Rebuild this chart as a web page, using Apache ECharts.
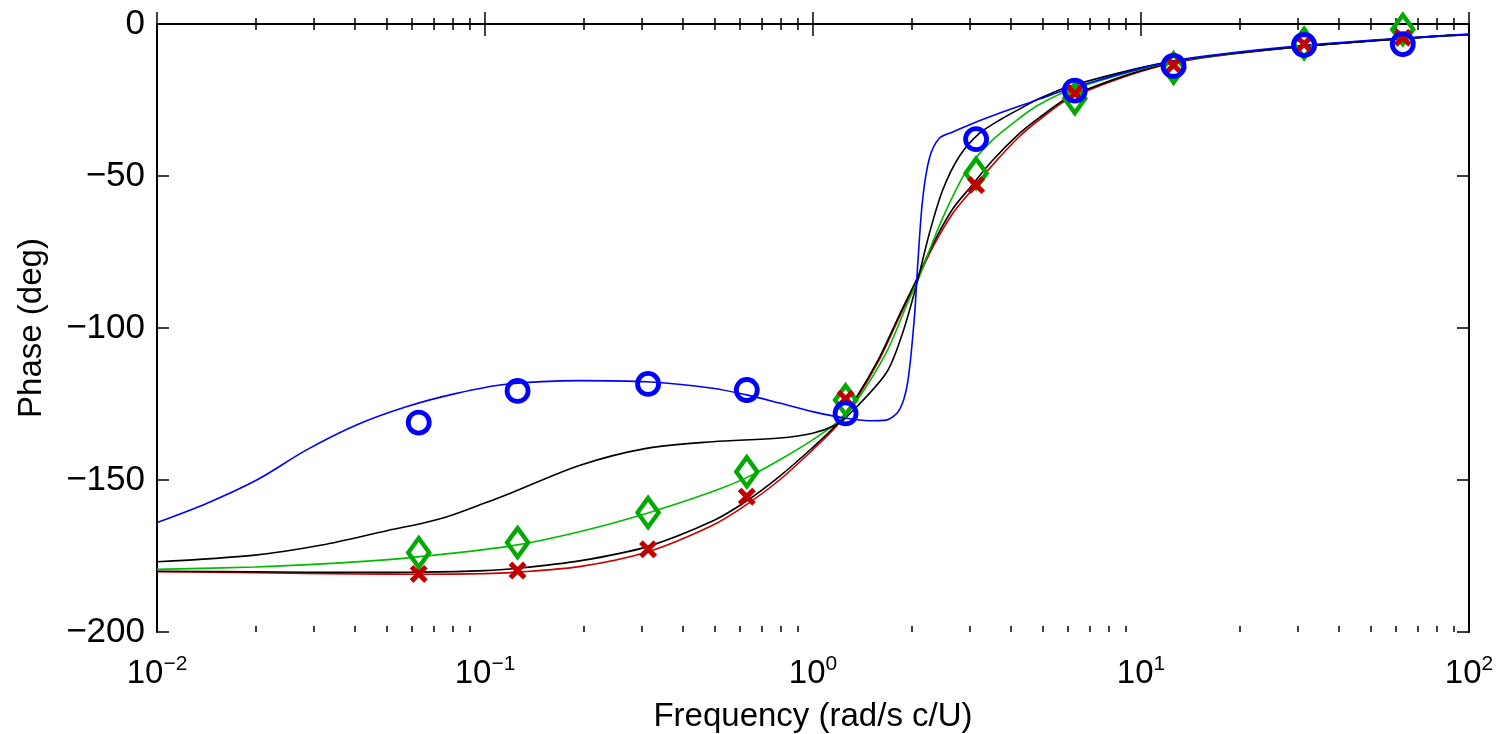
<!DOCTYPE html>
<html>
<head>
<meta charset="utf-8">
<script src="https://cdn.jsdelivr.net/npm/echarts@6/dist/echarts.min.js"></script>
<style>
html,body{margin:0;padding:0;background:#fff;}
#chart{width:1502px;height:734px;}
</style>
</head>
<body>
<div id="chart"></div>
<script>
// ---- data (frequency in rad/s, phase in deg) ----
const markFreq = [0.0628, 0.1257, 0.3142, 0.6283, 1.257, 3.142, 6.283, 12.57, 31.42, 62.83];
const blueMarks  = [-131.1, -120.7, -118.4, -120.4, -128.1, -37.9, -21.9, -13.8, -6.9, -6.6];
const greenMarks = [-173.9, -170.6, -160.7, -147.3, -123.7, -49.1, -24.5, -14.5, -6.4, -1.8];
const redMarks   = [-180.9, -179.8, -172.8, -155.5, -123.3, -53.0, -22.8, -13.5, -6.6, -4.5];

const blueLine = [[0.01,-164.0],[0.01416,-157.7],[0.02014,-150.0],[0.02858,-140.1],[0.04055,-131.9],[0.05754,-125.9],[0.08185,-121.5],[0.1161,-118.5],[0.1941,-117.3],[0.3112,-117.7],[0.4943,-119.8],[0.6266,-122.0],[0.7907,-124.7],[0.9954,-127.5],[1.262,-129.7],[1.486,-130.5],[1.671,-130.3],[1.832,-127.0],[1.941,-118.2],[2.037,-96.7],[2.084,-79.8],[2.158,-57.9],[2.265,-44.1],[2.427,-37.6],[2.667,-35.5],[2.992,-33.2],[3.524,-30.2],[4.375,-26.6],[4.898,-24.7],[6.17,-21.0],[12.45,-12.2],[31.8,-7.0],[80.9,-3.9],[100,-3.3]];
const blackUpper = [[0.01,-176.9],[0.0199,-174.7],[0.0318,-171.4],[0.0506,-166.6],[0.064,-164.3],[0.0762,-162.2],[0.0998,-157.6],[0.1216,-154.0],[0.194,-145.2],[0.3105,-139.6],[0.4946,-137.4],[0.7906,-136.2],[0.9977,-134.6],[1.175,-131.9],[1.261,-129.5],[1.670,-114.9],[1.875,-101.7],[2.061,-86.4],[2.263,-68.9],[2.486,-54.6],[2.792,-43.6],[3.214,-36.0],[3.785,-31.0],[4.258,-28.0],[4.898,-24.5],[6.17,-20.2],[12.45,-12.3],[31.8,-7.3],[80.9,-4.0],[100,-3.5]];
const greenLine = [[0.01,-179.4],[0.0199,-178.6],[0.0318,-177.6],[0.0506,-176.2],[0.0762,-174.3],[0.1216,-171.6],[0.194,-167.0],[0.3105,-161.0],[0.4946,-153.8],[0.6254,-149.3],[0.7906,-143.4],[0.9977,-136.8],[1.175,-131.3],[1.321,-125.9],[1.670,-108.3],[1.921,-93.0],[2.109,-83.1],[2.373,-68.9],[2.665,-56.8],[2.992,-46.9],[3.524,-38.2],[4.258,-31.0],[4.898,-26.5],[6.17,-21.5],[12.45,-12.5],[31.8,-7.3],[80.9,-4.0],[100,-3.5]];
const redLine = [[0.01,-180.2],[0.0199,-180.5],[0.0401,-180.9],[0.064,-181.0],[0.0998,-180.8],[0.1216,-180.4],[0.194,-178.5],[0.3105,-173.8],[0.4946,-164.9],[0.6254,-158.2],[0.7906,-150.0],[0.9977,-140.1],[1.175,-132.5],[1.352,-123.6],[1.592,-110.5],[1.832,-96.5],[2.06,-85.0],[2.33,-73.0],[2.66,-62.5],[3.0,-55.5],[3.52,-46.5],[4.26,-37.0],[4.9,-31.5],[6.17,-24.0],[12.45,-12.9],[31.8,-7.3],[80.9,-4.0],[100,-3.5]];
const blackLower = [[0.01,-180.0],[0.0199,-180.2],[0.0401,-180.4],[0.064,-180.3],[0.0998,-179.8],[0.1216,-179.2],[0.194,-176.6],[0.3105,-172.0],[0.4946,-163.5],[0.6254,-157.0],[0.7906,-148.8],[0.9977,-139.3],[1.175,-131.9],[1.352,-123.0],[1.592,-109.8],[1.832,-95.8],[2.06,-84.5],[2.33,-72.0],[2.66,-61.0],[3.0,-54.0],[3.52,-45.0],[4.26,-36.0],[4.9,-30.8],[6.17,-23.5],[12.45,-12.7],[31.8,-7.3],[80.9,-4.0],[100,-3.5]];

const xMin = 0.01, xMax = 100;
const yMin = -200, yMax = 0, yStep = 50;
const minorTickValues = [];
for (let d = -2; d <= 1; d++) for (let k = 2; k <= 9; k++) minorTickValues.push(+(k * Math.pow(10, d)).toPrecision(3));

// ---- chart ----
const FONT = 'Liberation Sans, Arial, Helvetica, sans-serif';
const pairs = (xs, ys) => xs.map((x, i) => [x, ys[i]]);
const chart = echarts.init(document.getElementById('chart'), null, {renderer: 'canvas'});

const gridBox = {left: 157, right: 33, top: 24, bottom: 102, containLabel: false, outerBoundsMode: 'none'};

// opts: {grid, pos, minor, labels, fixed}
function xAxisDef(o) {
  const a = {
    type: 'log', logBase: 10, min: xMin, max: xMax, position: o.pos, gridIndex: o.grid,
    axisLine: {show: !o.minor, lineStyle: {color: '#000', width: 2}},
    axisTick: {show: true, inside: true, length: o.minor ? 6 : 12, lineStyle: {color: '#000', width: 1.5}},
    splitLine: {show: false}, minorTick: {show: false},
    axisLabel: {show: false}
  };
  if (o.fixed) a.axisLine.onZero = false;
  if (o.minor) a.axisTick.customValues = minorTickValues;
  if (o.labels) {
    a.axisLabel = {
      show: true, margin: 22, color: '#000', fontFamily: FONT,
      formatter: function (v) {
        const e = Math.round(Math.log10(v));
        return '{b|10}{s|' + (e < 0 ? '\u2212' + (-e) : e) + '}';
      },
      rich: {
        b: {fontSize: 33, fontFamily: FONT, color: '#000', lineHeight: 40},
        s: {fontSize: 21, fontFamily: FONT, color: '#000', lineHeight: 16, verticalAlign: 'top'}
      }
    };
    a.name = 'Frequency (rad/s c/U)';
    a.nameLocation = 'middle';
    a.nameGap = 68;
    a.nameTextStyle = {fontSize: 33, fontFamily: FONT, color: '#000'};
  }
  return a;
}
function yAxisDef(grid, pos, labels, hidden) {
  const a = {
    type: 'value', min: yMin, max: yMax, interval: yStep, position: pos, gridIndex: grid,
    axisLine: {show: !hidden, lineStyle: {color: '#000', width: 2}},
    axisTick: {show: !hidden, inside: true, length: 12, lineStyle: {color: '#000', width: 1.5}},
    splitLine: {show: false},
    axisLabel: {show: false}
  };
  if (labels) {
    a.axisLabel = {show: true, margin: 12, fontSize: 35, fontFamily: FONT, color: '#000',
      formatter: v => String(v).replace('-', '\u2212')};
    a.name = 'Phase (deg)';
    a.nameLocation = 'middle';
    a.nameRotate = 90;
    a.nameGap = 109;
    a.nameTextStyle = {fontSize: 33, fontFamily: FONT, color: '#000'};
  }
  return a;
}

function lineSeries(data, color, z) {
  return {type: 'line', data: data, xAxisIndex: 0, yAxisIndex: 0, showSymbol: false, symbol: 'none',
    smooth: 0.3, lineStyle: {color: color, width: 1.6}, z: z, silent: true, clip: true};
}

const xPath = 'path://M0,2 L2,0 L5,3 L8,0 L10,2 L7,5 L10,8 L8,10 L5,7 L2,10 L0,8 L3,5 Z';

chart.setOption({
  animation: false,
  backgroundColor: '#fff',
  grid: [0, 1, 2].map(() => Object.assign({}, gridBox)),
  xAxis: [
    xAxisDef({grid: 0, pos: 'bottom', labels: true}),
    xAxisDef({grid: 0, pos: 'top'}),
    xAxisDef({grid: 1, pos: 'bottom', minor: true}),
    xAxisDef({grid: 1, pos: 'top', minor: true}),
    xAxisDef({grid: 2, pos: 'bottom', minor: true, fixed: true})
  ],
  yAxis: [yAxisDef(0, 'left', true, false), yAxisDef(0, 'right', false, false),
          yAxisDef(1, 'left', false, true), yAxisDef(2, 'left', false, true)],
  series: [
    lineSeries(redLine, '#cc0000', 2),
    lineSeries(blackLower, '#000000', 3),
    lineSeries(greenLine, '#00bb00', 4),
    lineSeries(blackUpper, '#000000', 5),
    lineSeries(blueLine, '#0000ff', 6),
    {type: 'scatter', data: pairs(markFreq, greenMarks), symbol: 'diamond', symbolSize: [21, 29], z: 7,
      itemStyle: {color: 'rgba(0,0,0,0)', borderColor: '#00aa00', borderWidth: 4.5, opacity: 1}},
    {type: 'scatter', data: pairs(markFreq, redMarks), symbol: xPath, symbolSize: 18, z: 8,
      itemStyle: {color: '#c00000', opacity: 1}},
    {type: 'scatter', data: pairs(markFreq, blueMarks), symbol: 'circle', symbolSize: 21, z: 9,
      itemStyle: {color: 'rgba(0,0,0,0)', borderColor: '#0000ff', borderWidth: 4.8, opacity: 1}}
  ]
});
</script>
</body>
</html>
